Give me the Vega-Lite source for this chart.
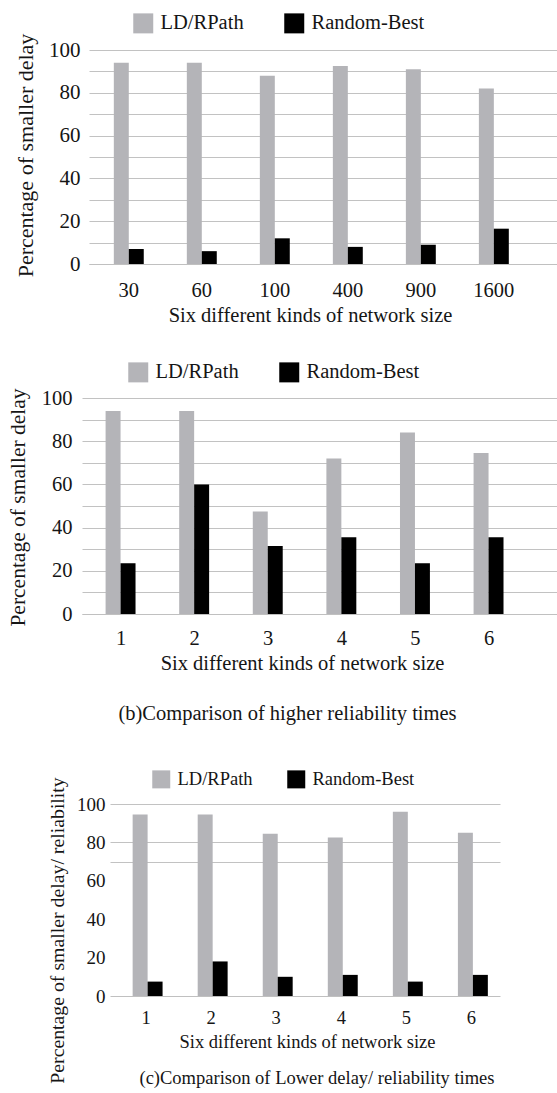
{
  "$schema": "https://vega.github.io/schema/vega-lite/v6.json",
  "padding": {"left": 0, "top": 13, "right": 0, "bottom": 0},
  "background": "white",
  "spacing": 0,
  "align": "none",
  "resolve": {"scale": {"color": "independent", "x": "independent", "y": "independent"}, "legend": {"color": "independent"}},
  "config": {
    "view": {"stroke": null},
    "font": "Liberation Serif",
    "style": {"guide-label": {"font": "Liberation Serif"}, "guide-title": {"font": "Liberation Serif"}, "group-title": {"font": "Liberation Serif"}},
    "axis": {"labelFont": "Liberation Serif", "titleFont": "Liberation Serif", "labelColor": "#151515", "titleColor": "#151515", "titleFontWeight": "normal", "ticks": false, "domain": false},
    "axisX": {"grid": false, "domain": true, "domainColor": "#c0c0c0", "labelAngle": 0, "labelBaseline": "middle", "titleBaseline": "middle"},
    "axisY": {"titleBaseline": "middle", "titleAngle": -90, "grid": true, "gridColor": "#c2c2c2", "gridWidth": 1},
    "legend": {"labelFont": "Liberation Serif", "labelColor": "#151515", "orient": "none", "direction": "horizontal", "title": null, "padding": 0, "symbolType": "square", "symbolStrokeWidth": 0, "labelOffset": 7, "columnPadding": 40},
    "title": {"font": "Liberation Serif", "fontWeight": "normal", "color": "#151515"}
  },
  "datasets": {
    "p1": [
      {"size": "30", "series": "LD/RPath", "value": 94},
      {"size": "30", "series": "Random-Best", "value": 7},
      {"size": "60", "series": "LD/RPath", "value": 94},
      {"size": "60", "series": "Random-Best", "value": 6},
      {"size": "100", "series": "LD/RPath", "value": 88},
      {"size": "100", "series": "Random-Best", "value": 12},
      {"size": "400", "series": "LD/RPath", "value": 92.5},
      {"size": "400", "series": "Random-Best", "value": 8},
      {"size": "900", "series": "LD/RPath", "value": 91},
      {"size": "900", "series": "Random-Best", "value": 9},
      {"size": "1600", "series": "LD/RPath", "value": 82},
      {"size": "1600", "series": "Random-Best", "value": 16.5}
    ],
    "p2": [
      {"size": "1", "series": "LD/RPath", "value": 94},
      {"size": "1", "series": "Random-Best", "value": 23.5},
      {"size": "2", "series": "LD/RPath", "value": 94},
      {"size": "2", "series": "Random-Best", "value": 60},
      {"size": "3", "series": "LD/RPath", "value": 47.5},
      {"size": "3", "series": "Random-Best", "value": 31.5},
      {"size": "4", "series": "LD/RPath", "value": 72},
      {"size": "4", "series": "Random-Best", "value": 35.5},
      {"size": "5", "series": "LD/RPath", "value": 84},
      {"size": "5", "series": "Random-Best", "value": 23.5},
      {"size": "6", "series": "LD/RPath", "value": 74.5},
      {"size": "6", "series": "Random-Best", "value": 35.5}
    ],
    "p3": [
      {"size": "1", "series": "LD/RPath", "value": 94.5},
      {"size": "1", "series": "Random-Best", "value": 7.5},
      {"size": "2", "series": "LD/RPath", "value": 94.5},
      {"size": "2", "series": "Random-Best", "value": 18},
      {"size": "3", "series": "LD/RPath", "value": 84.5},
      {"size": "3", "series": "Random-Best", "value": 10},
      {"size": "4", "series": "LD/RPath", "value": 82.5},
      {"size": "4", "series": "Random-Best", "value": 11},
      {"size": "5", "series": "LD/RPath", "value": 96},
      {"size": "5", "series": "Random-Best", "value": 7.5},
      {"size": "6", "series": "LD/RPath", "value": 85},
      {"size": "6", "series": "Random-Best", "value": 11}
    ]
  },
  "vconcat": [
    {
      "bounds": "flush",
      "spacing": 0,
      "resolve": {"scale": {"color": "independent", "x": "independent", "y": "independent"}, "legend": {"color": "independent"}},
      "hconcat": [
        {"width": 89, "height": 312, "data": {"values": []}, "mark": {"type": "rect", "opacity": 0}, "encoding": {}},
        {
          "width": 468,
          "height": 214,
          "data": {"name": "p1"},
          "mark": {"type": "bar"},
          "encoding": {
            "x": {"field": "size", "type": "nominal", "sort": null,
              "scale": {"paddingInner": 0.59, "paddingOuter": 0.5, "align": 0.34},
              "axis": {"title": "Six different kinds of network size", "labelFont": "Liberation Serif", "titleFont": "Liberation Serif", "labelFontSize": 20.5, "titleFontSize": 20.5, "labelPadding": 26, "titleX": 221, "titleY": 51}},
            "xOffset": {"field": "series", "type": "nominal", "sort": ["LD/RPath", "Random-Best"], "scale": {"paddingInner": 0, "paddingOuter": 0}},
            "y": {"field": "value", "type": "quantitative", "scale": {"domain": [0, 100], "nice": false},
              "axis": {"title": "Percentage of smaller delay", "grid": true, "gridColor": "#c2c2c2", "values": [0, 10, 20, 30, 40, 50, 60, 70, 80, 90, 100], "labelExpr": "datum.value % 20 == 0 ? datum.label : ''", "labelFont": "Liberation Serif", "titleFont": "Liberation Serif", "labelFontSize": 21, "titleFontSize": 22, "labelPadding": 9, "titleX": -64, "titleY": 105}},
            "color": {"field": "series", "type": "nominal",
              "scale": {"domain": ["LD/RPath", "Random-Best"], "range": ["#b4b4b8", "#000000"]},
              "legend": {"legendX": 44, "legendY": -37, "labelFont": "Liberation Serif", "labelFontSize": 20.5, "symbolSize": 400}}
          }
        }
      ]
    },
    {
      "bounds": "flush",
      "spacing": 0,
      "resolve": {"scale": {"color": "independent", "x": "independent", "y": "independent"}, "legend": {"color": "independent"}},
      "hconcat": [
        {"width": 82, "height": 372, "data": {"values": []}, "mark": {"type": "rect", "opacity": 0}, "encoding": {}},
        {
          "width": 475,
          "height": 216,
          "data": {"name": "p2"},
          "title": {"text": "(b)Comparison of higher reliability times", "orient": "bottom", "frame": "group", "anchor": "middle", "offset": 30, "dx": -32, "fontSize": 20.5, "font": "Liberation Serif"},
          "mark": {"type": "bar"},
          "encoding": {
            "x": {"field": "size", "type": "nominal", "sort": null,
              "scale": {"paddingInner": 0.58, "paddingOuter": 0.517, "align": 0.31},
              "axis": {"title": "Six different kinds of network size", "labelFont": "Liberation Serif", "titleFont": "Liberation Serif", "labelFontSize": 20.5, "titleFontSize": 20.5, "labelPadding": 24, "titleX": 220, "titleY": 49}},
            "xOffset": {"field": "series", "type": "nominal", "sort": ["LD/RPath", "Random-Best"], "scale": {"paddingInner": 0, "paddingOuter": 0}},
            "y": {"field": "value", "type": "quantitative", "scale": {"domain": [0, 100], "nice": false},
              "axis": {"title": "Percentage of smaller delay", "grid": true, "gridColor": "#c2c2c2", "values": [0, 10, 20, 30, 40, 50, 60, 70, 80, 90, 100], "labelExpr": "datum.value % 20 == 0 ? datum.label : ''", "labelFont": "Liberation Serif", "titleFont": "Liberation Serif", "labelFontSize": 20.5, "titleFontSize": 21.5, "labelPadding": 10, "titleX": -64, "titleY": 109}},
            "color": {"field": "series", "type": "nominal",
              "scale": {"domain": ["LD/RPath", "Random-Best"], "range": ["#b4b4b8", "#000000"]},
              "legend": {"legendX": 46, "legendY": -36, "labelFont": "Liberation Serif", "labelFontSize": 20.5, "symbolSize": 400}}
          }
        }
      ]
    },
    {
      "bounds": "flush",
      "spacing": 0,
      "resolve": {"scale": {"color": "independent", "x": "independent", "y": "independent"}, "legend": {"color": "independent"}},
      "hconcat": [
        {"width": 110, "height": 192, "data": {"values": []}, "mark": {"type": "rect", "opacity": 0}, "encoding": {}},
        {
          "width": 390,
          "height": 192,
          "data": {"name": "p3"},
          "title": {"text": "(c)Comparison of Lower delay/ reliability times", "orient": "bottom", "frame": "group", "anchor": "middle", "offset": -17, "dx": 12, "fontSize": 18.5, "font": "Liberation Serif"},
          "mark": {"type": "bar"},
          "encoding": {
            "x": {"field": "size", "type": "nominal", "sort": null,
              "scale": {"paddingInner": 0.585, "paddingOuter": 0.29, "align": 0.6},
              "axis": {"title": "Six different kinds of network size", "labelFont": "Liberation Serif", "titleFont": "Liberation Serif", "labelFontSize": 18.5, "titleFontSize": 18.5, "labelPadding": 21, "titleX": 197, "titleY": 45}},
            "xOffset": {"field": "series", "type": "nominal", "sort": ["LD/RPath", "Random-Best"], "scale": {"paddingInner": 0, "paddingOuter": 0}},
            "y": {"field": "value", "type": "quantitative", "scale": {"domain": [0, 100], "nice": false},
              "axis": {"title": "Percentage of smaller  delay/ reliability", "grid": true, "gridColor": "#c2c2c2", "values": [0, 20, 40, 60, 70, 80, 100], "labelExpr": "datum.value == 70 ? '' : datum.label", "gridOpacity": {"condition": {"test": "datum.value >= 70", "value": 1}, "value": 0}, "labelFont": "Liberation Serif", "titleFont": "Liberation Serif", "labelFontSize": 19, "titleFontSize": 19.8, "labelPadding": 5, "titleX": -53, "titleY": 126}},
            "color": {"field": "series", "type": "nominal",
              "scale": {"domain": ["LD/RPath", "Random-Best"], "range": ["#b4b4b8", "#000000"]},
              "legend": {"legendX": 42, "legendY": -34, "labelFont": "Liberation Serif", "labelFontSize": 18.5, "symbolSize": 324, "columnPadding": 34}}
          }
        }
      ]
    }
  ]
}
